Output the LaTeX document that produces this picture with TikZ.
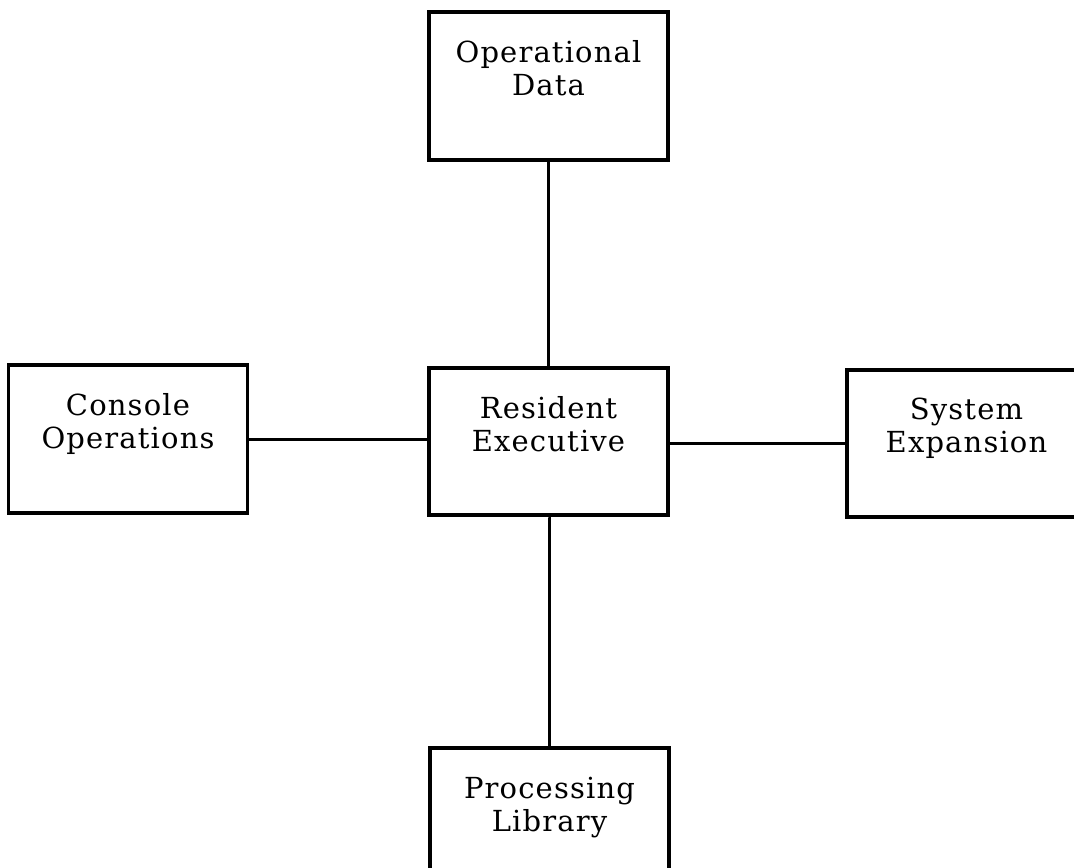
\documentclass[tikz,border=0pt]{standalone}
\usepackage{fontspec}
\setmainfont[LetterSpace=4]{DejaVu Serif}
\tikzset{
  blk/.style={draw,line width=2.2pt,minimum width=4.78cm,minimum height=2.95cm,
    label={[anchor=north,inner sep=0pt,align=center,yshift=-0.6cm,
      font=\fontsize{16.5}{18.8}\selectfont]north:#1}},
  wire/.style={line width=1.7pt}
}
\begin{document}
\begin{tikzpicture}[x=0.02cm,y=-0.02cm]
  \useasboundingbox (0,0) rectangle (1074,867);
	\node[blk={Operational\\Data}] (opdata) at (548.5,86) {};
	\node[blk={Resident\\Executive}] (resexec) at (548.5,441.5) {};
	\node[blk={Console\\Operations}] (console) at (128,439) {};
	\node[blk={System\\Expansion}] (sysexp) at (966.5,443.5) {};
	\node[blk={Processing\\Library}] (proclib) at (549.5,822) {};
  \draw[wire] (opdata.south) -- (resexec.north);
  \draw[wire] (console.east) -- (console.east -| resexec.west);
  \draw[wire] (resexec.east |- sysexp.west) -- (sysexp.west);
  \draw[wire] (resexec.south) -- (resexec.south -| proclib.north) -- (proclib.north);
\end{tikzpicture}
\end{document}
